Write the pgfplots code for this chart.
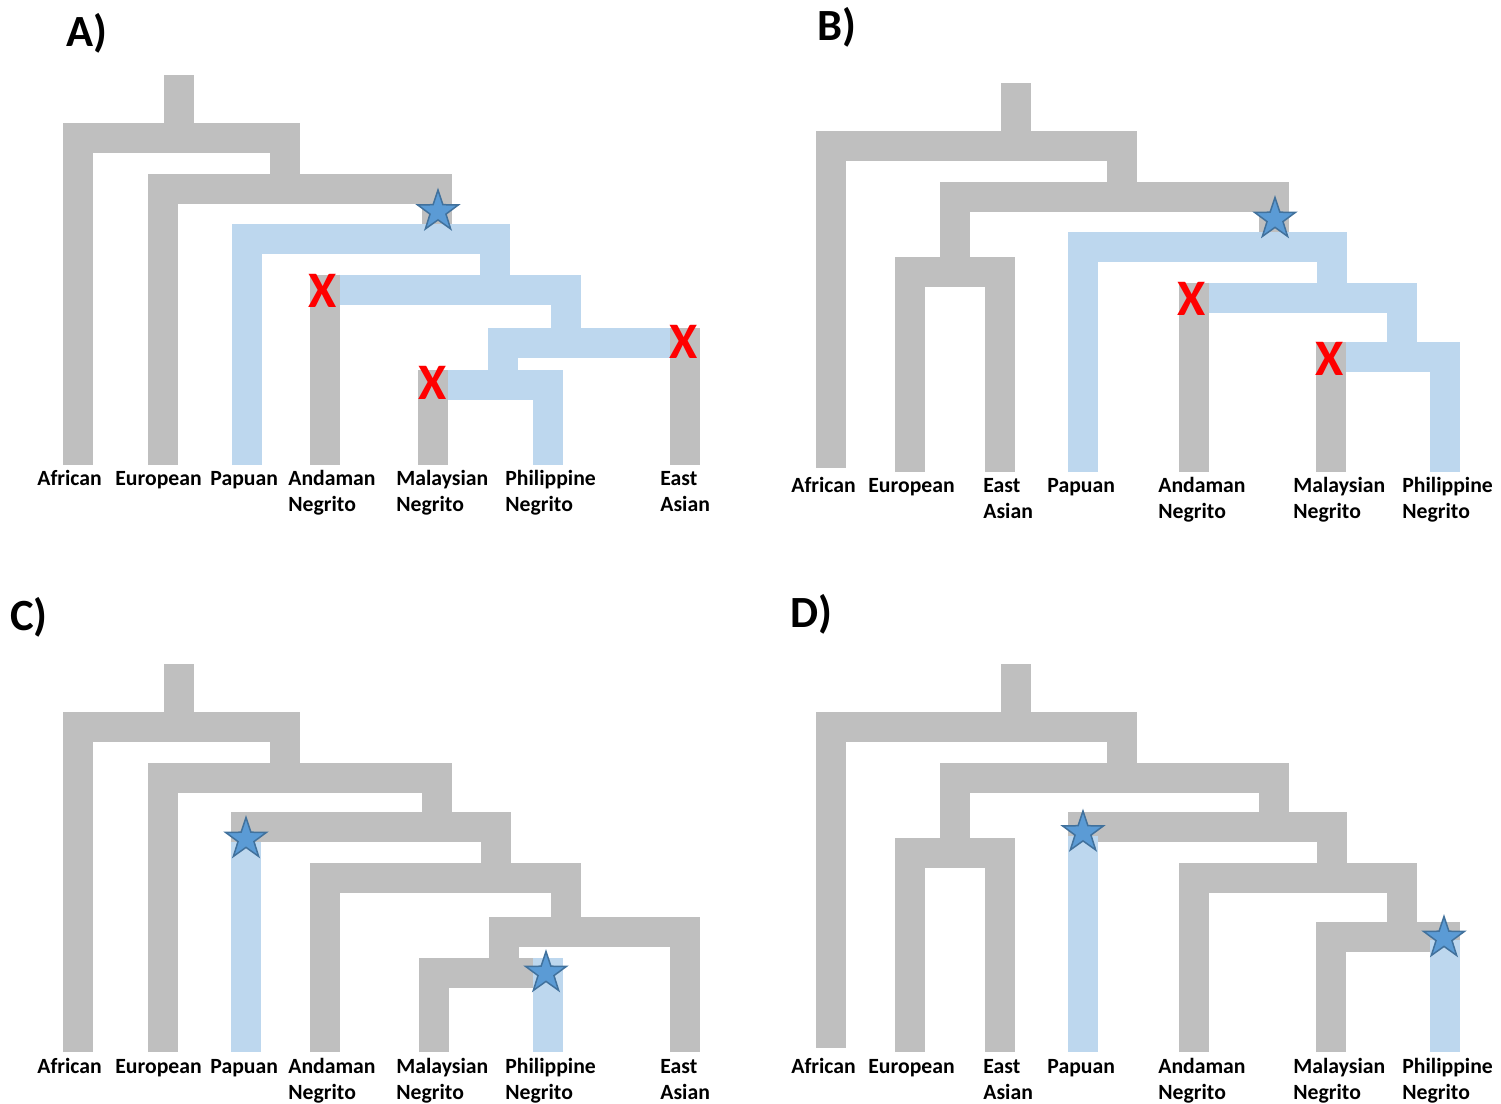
\documentclass[border=0pt]{standalone}
\usepackage{pgfplots}
\pgfplotsset{compat=1.18}
\usepackage{fontspec}
\setmainfont{Carlito}
\definecolor{gry}{HTML}{BFBFBF}
\definecolor{blu}{HTML}{BDD7EE}
\definecolor{stf}{HTML}{5B9BD5}
\definecolor{stl}{HTML}{41719C}
\newcommand\labfont{\fontsize{10.85}{13}\selectfont\bfseries}
\newcommand\panfont{\fontsize{22.3}{26}\selectfont\bfseries}
\newcommand\xfont{\fontsize{25.6}{30}\selectfont\bfseries}
\pgfdeclareplotmark{fstar}{%
  \pgfpathmoveto{\pgfpointpolar{90}{\pgfplotmarksize}}%
  \pgfpathlineto{\pgfpointpolar{126}{0.39\pgfplotmarksize}}%
  \pgfpathlineto{\pgfpointpolar{162}{\pgfplotmarksize}}%
  \pgfpathlineto{\pgfpointpolar{198}{0.39\pgfplotmarksize}}%
  \pgfpathlineto{\pgfpointpolar{234}{\pgfplotmarksize}}%
  \pgfpathlineto{\pgfpointpolar{270}{0.39\pgfplotmarksize}}%
  \pgfpathlineto{\pgfpointpolar{306}{\pgfplotmarksize}}%
  \pgfpathlineto{\pgfpointpolar{342}{0.39\pgfplotmarksize}}%
  \pgfpathlineto{\pgfpointpolar{18}{\pgfplotmarksize}}%
  \pgfpathlineto{\pgfpointpolar{54}{0.39\pgfplotmarksize}}%
  \pgfpathclose
  \pgfusepathqfillstroke}
\pgfdeclareplotmark{redX}{\pgftext{\xfont\color{red}X}}
\begin{document}
\begin{tikzpicture}[lab/.style={anchor=base west, inner sep=0pt, font=\labfont},
  pan/.style={anchor=base west, inner sep=0pt, font=\panfont}]
\begin{axis}[name=ax, scale only axis, width=750.5pt, height=552pt,
  xmin=0, xmax=1501, ymin=0, ymax=1104, y dir=reverse, hide axis, clip=false,
  G/.style={draw=gry, line width=15pt, line join=miter, line cap=butt},
  B/.style={draw=blu, line width=15pt, line join=miter, line cap=butt},
  S/.style={only marks, mark=fstar, mark size=10.75pt, mark options={fill=stf, draw=stl, line width=0.75pt}},
  X/.style={only marks, mark=redX}]
% ---------------- Panel A ----------------
\addplot[G] coordinates {(179,75)(179,137.5)};
\addplot[G] coordinates {(78,465)(78,137.5)(285,137.5)(285,189)};
\addplot[G] coordinates {(163,465)(163,189)(437,189)(437,239)};
\addplot[B] coordinates {(247,465)(247,239)(495,239)(495,290)};
\addplot[G] coordinates {(325,274.5)(325,465)};
\addplot[B] coordinates {(340,290)(566,290)(566,343)};
\addplot[B] coordinates {(503,385)(503,343)(669.5,343)};
\addplot[G] coordinates {(685,328)(685,465)};
\addplot[G] coordinates {(433,370)(433,465)};
\addplot[B] coordinates {(448,385)(548,385)(548,465)};
\addplot[S] coordinates {(438,211.5)};
\addplot[X] coordinates {(323,291)(684,342)(433,383)};
% ---------------- Panel B ----------------
\addplot[G] coordinates {(1016,83)(1016,146)};
\addplot[G] coordinates {(830.5,467.5)(830.5,146)(1122,146)(1122,197)};
\addplot[G] coordinates {(955,272)(955,197)(1274,197)(1274,247)};
\addplot[G] coordinates {(910,472)(910,272)(999.5,272)(999.5,472)};
\addplot[B] coordinates {(1083,472)(1083,247)(1332,247)(1332,298)};
\addplot[G] coordinates {(1194,282.5)(1194,472)};
\addplot[B] coordinates {(1209,298)(1402,298)(1402,357)};
\addplot[G] coordinates {(1331,342)(1331,472)};
\addplot[B] coordinates {(1346,357)(1445,357)(1445,472)};
\addplot[S] coordinates {(1275,219)};
\addplot[X] coordinates {(1192,299)(1330,359)};
% ---------------- Panel C ----------------
\addplot[G] coordinates {(179,664)(179,727)};
\addplot[G] coordinates {(78,1052)(78,727)(285,727)(285,778)};
\addplot[G] coordinates {(163,1052)(163,778)(437,778)(437,827)};
\addplot[G] coordinates {(246,842)(246,827)(496,827)(496,878)};
\addplot[B] coordinates {(246,842)(246,1052)};
\addplot[G] coordinates {(325,1052)(325,878)(566,878)(566,932)};
\addplot[G] coordinates {(685,1052)(685,932)(504,932)(504,973)};
\addplot[G] coordinates {(434,1052)(434,973)(548,973)(548,988)};
\addplot[B] coordinates {(548,958)(548,1052)};
\addplot[S] coordinates {(246,839)(546,973)};
% ---------------- Panel D ----------------
\addplot[G] coordinates {(1016,664)(1016,727)};
\addplot[G] coordinates {(830.5,1047.5)(830.5,727)(1122,727)(1122,778)};
\addplot[G] coordinates {(955,853)(955,778)(1274,778)(1274,827)};
\addplot[G] coordinates {(910,1052)(910,853)(999.5,853)(999.5,1052)};
\addplot[G] coordinates {(1083,842)(1083,827)(1332,827)(1332,878)};
\addplot[B] coordinates {(1083,836)(1083,1052)};
\addplot[G] coordinates {(1194,1052)(1194,878)(1402,878)(1402,937)};
\addplot[G] coordinates {(1331,1052)(1331,937)(1445,937)(1445,952)};
\addplot[B] coordinates {(1445,940)(1445,1052)};
\addplot[S] coordinates {(1083,832.5)(1444,938)};
% ---------------- Labels ----------------
\node[pan] at (axis cs:65.7,46.7) {A)};
\node[pan] at (axis cs:816.7,40) {B)};
\node[pan] at (axis cs:10,630) {C)};
\node[pan] at (axis cs:790,627) {D)};
% A row
\node[lab] at (axis cs:37,485.5) {African};
\node[lab] at (axis cs:115,485.5) {European};
\node[lab] at (axis cs:210,485.5) {Papuan};
\node[lab] at (axis cs:288,485.5) {Andaman};
\node[lab] at (axis cs:288,511.5) {Negrito};
\node[lab] at (axis cs:396,485.5) {Malaysian};
\node[lab] at (axis cs:396,511.5) {Negrito};
\node[lab] at (axis cs:505,485.5) {Philippine};
\node[lab] at (axis cs:505,511.5) {Negrito};
\node[lab] at (axis cs:660,485.5) {East};
\node[lab] at (axis cs:660,511.5) {Asian};
% B row
\node[lab] at (axis cs:791,492.3) {African};
\node[lab] at (axis cs:868,492.3) {European};
\node[lab] at (axis cs:983,492.3) {East};
\node[lab] at (axis cs:983,518.3) {Asian};
\node[lab] at (axis cs:1047,492.3) {Papuan};
\node[lab] at (axis cs:1158,492.3) {Andaman};
\node[lab] at (axis cs:1158,518.3) {Negrito};
\node[lab] at (axis cs:1293,492.3) {Malaysian};
\node[lab] at (axis cs:1293,518.3) {Negrito};
\node[lab] at (axis cs:1402,492.3) {Philippine};
\node[lab] at (axis cs:1402,518.3) {Negrito};
% C row
\node[lab] at (axis cs:37,1073.3) {African};
\node[lab] at (axis cs:115,1073.3) {European};
\node[lab] at (axis cs:210,1073.3) {Papuan};
\node[lab] at (axis cs:288,1073.3) {Andaman};
\node[lab] at (axis cs:288,1099.3) {Negrito};
\node[lab] at (axis cs:396,1073.3) {Malaysian};
\node[lab] at (axis cs:396,1099.3) {Negrito};
\node[lab] at (axis cs:505,1073.3) {Philippine};
\node[lab] at (axis cs:505,1099.3) {Negrito};
\node[lab] at (axis cs:660,1073.3) {East};
\node[lab] at (axis cs:660,1099.3) {Asian};
% D row
\node[lab] at (axis cs:791,1073.3) {African};
\node[lab] at (axis cs:868,1073.3) {European};
\node[lab] at (axis cs:983,1073.3) {East};
\node[lab] at (axis cs:983,1099.3) {Asian};
\node[lab] at (axis cs:1047,1073.3) {Papuan};
\node[lab] at (axis cs:1158,1073.3) {Andaman};
\node[lab] at (axis cs:1158,1099.3) {Negrito};
\node[lab] at (axis cs:1293,1073.3) {Malaysian};
\node[lab] at (axis cs:1293,1099.3) {Negrito};
\node[lab] at (axis cs:1402,1073.3) {Philippine};
\node[lab] at (axis cs:1402,1099.3) {Negrito};
\end{axis}
\pgfresetboundingbox
\useasboundingbox (ax.south west) rectangle (ax.north east);
\end{tikzpicture}
\end{document}
